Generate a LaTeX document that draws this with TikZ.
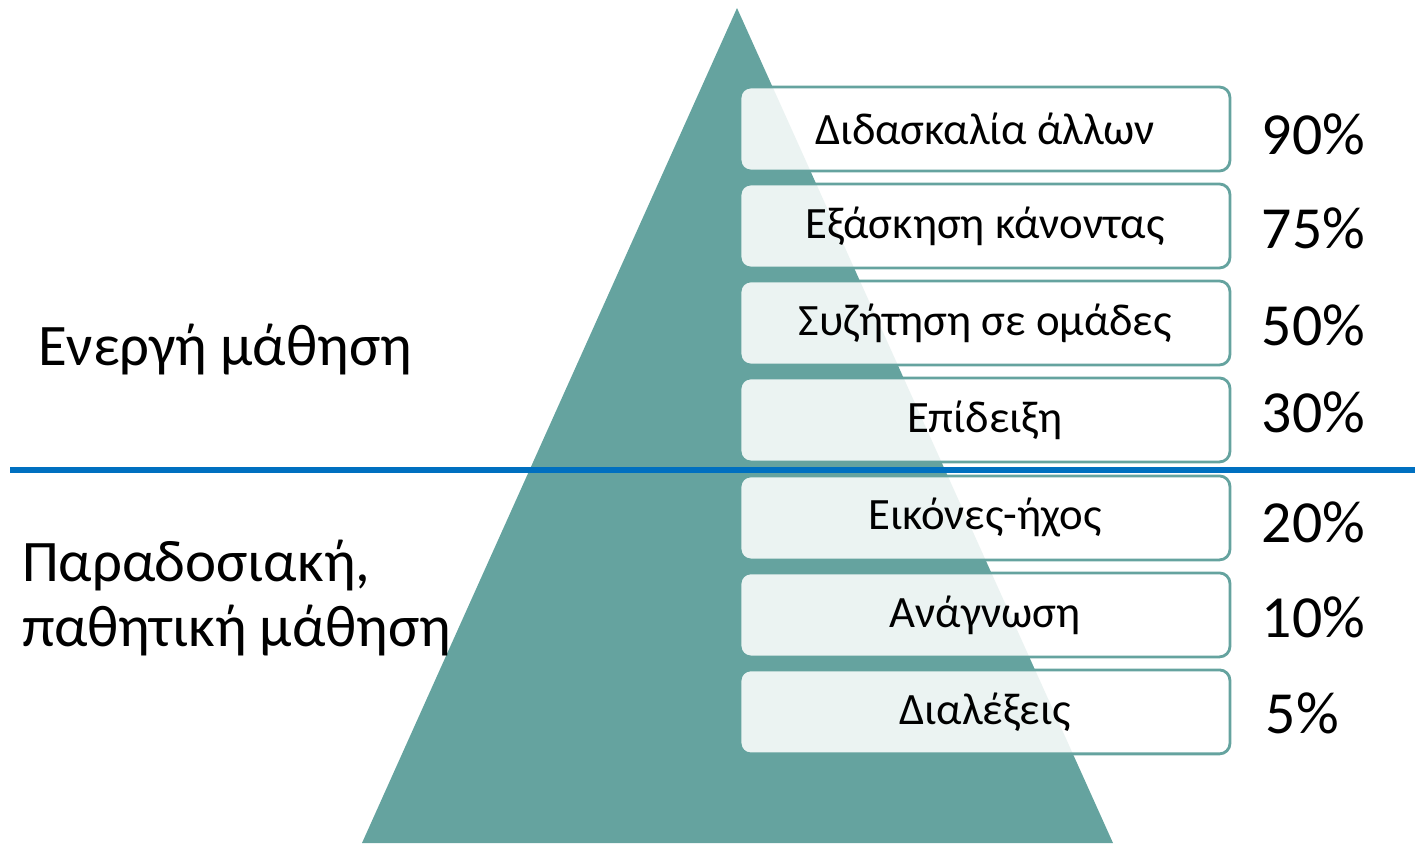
\documentclass[tikz,border=0pt]{standalone}
\usepackage{fontspec}
\setmainfont{Carlito}
\usetikzlibrary{positioning}
\definecolor{pyrteal}{HTML}{65A39F}
\definecolor{splitblue}{HTML}{0070C0}

\begin{document}
\begin{tikzpicture}
[x=0.02cm, y=-0.02cm,
every node/.style={inner sep=0pt, outer sep=0pt},
levelbox/.style={draw=pyrteal, line width=1.6pt, fill=white, fill opacity=0.87,
  text opacity=1, rounded corners=6pt, minimum width=9.8cm, minimum height=1.68cm,
  font=\fontsize{25.5}{30}\selectfont},
rate/.style={anchor=west, font=\fontsize{34}{40}\selectfont},
sidelabel/.style={anchor=west, align=left, font=\fontsize{33.5}{36.5}\selectfont},
]
\useasboundingbox (0,0) rectangle (1415,843);

% pyramid
\coordinate (apex) at (737,8);
\coordinate (baseL) at (362,843);
\coordinate (baseR) at (1113,843);
\fill[pyrteal] (baseL) -- (apex) -- (baseR) -- cycle;

% levels, top to bottom
\node[levelbox] (teach) at (985,129) {Διδασκαλία άλλων};
\node[levelbox, below=0.26cm of teach] (practice) {Εξάσκηση κάνοντας};
\node[levelbox, below=0.26cm of practice] (discuss) {Συζήτηση σε ομάδες};
\node[levelbox, below=0.26cm of discuss] (demo) {Επίδειξη};
\node[levelbox, below=0.28cm of demo] (av) {Εικόνες-ήχος};
\node[levelbox, below=0.26cm of av] (reading) {Ανάγνωση};
\node[levelbox, below=0.26cm of reading] (lecture) {Διαλέξεις};

% retention rates
\node[rate, right=0.64cm of teach, yshift=-0.1cm] (p90) {90\%};
\node[rate, right=0.64cm of practice, yshift=-0.04cm] (p75) {75\%};
\node[rate, right=0.64cm of discuss, yshift=-0.04cm] (p50) {50\%};
\node[rate, right=0.64cm of demo, yshift=0.16cm] (p30) {30\%};
\node[rate, right=0.64cm of av, yshift=-0.08cm] (p20) {20\%};
\node[rate, right=0.64cm of reading, yshift=-0.04cm] (p10) {10\%};
\node[rate, right=0.72cm of lecture, yshift=-0.02cm] (p5) {5\%};

% dividing line
\coordinate (splitL) at (10,470);
\coordinate (splitR) at (1415,470);
\draw[splitblue, line width=3.4pt] (splitL) -- (splitR);

\node[sidelabel] (active) at (38,350) {Ενεργή μάθηση};
\node[sidelabel] (passive) at (22,598) {Παραδοσιακή,\\παθητική μάθηση};
\end{tikzpicture}
\end{document}
